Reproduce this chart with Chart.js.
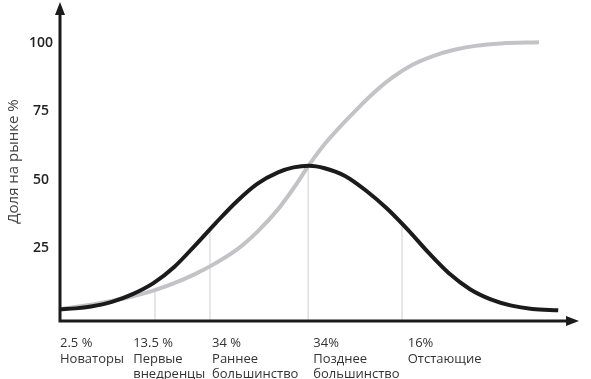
<!DOCTYPE html>
<html><head><meta charset="utf-8">
<script src="https://cdn.jsdelivr.net/npm/chart.js@4"></script>
<style>html,body{margin:0;padding:0;background:#fff}canvas{display:block}</style>
</head><body>
<canvas id="c" width="591" height="379"></canvas>
<script>
// Adoption (bell) curve
const adoptionX = [0, 3, 6, 10, 14, 18, 22, 26, 30, 34, 38, 42, 45, 48, 51, 55, 59, 63, 67, 71, 75, 79, 83, 87, 91, 96];
const adoptionY = [2.8, 3.1, 3.8, 5.5, 8.3, 12.3, 18.2, 26.0, 34.2, 42.0, 48.5, 52.7, 54.5, 55.1, 54.2, 51.3, 46.0, 39.5, 31.8, 23.4, 15.8, 10.1, 6.4, 4.1, 2.9, 2.4];
// Market share (S) curve
const shareX = [0, 6, 12, 18, 22, 26, 30, 34, 38, 42, 45, 48, 51, 54, 57, 60, 64, 68, 72, 76, 80, 85, 92.3];
const shareY = [2.8, 4.4, 6.6, 9.6, 12.3, 15.6, 19.6, 24.4, 31.0, 39.2, 46.9, 55.4, 63.0, 69.4, 75.3, 80.9, 87.2, 92.0, 95.2, 97.4, 98.8, 99.7, 100.1];
// Group boundaries (x) and the height of each drop line
const boundaryX = [18.3, 28.9, 47.8, 65.9];
const boundaryTop = [9.8, 32.2, 55.0, 34.5];
// Axis ticks
const yTickValues = [25, 50, 75, 100];
const xTickValues = [0, 14.1, 29.3, 48.8, 67.0];
const xTickLabels = [
  ["2.5 %", "Новаторы"],
  ["13.5 %", "Первые", "внедренцы"],
  ["34 %", "Раннее", "большинство"],
  ["34%", "Позднее", "большинство"],
  ["16%", "Отстающие"]
];
const yTitle = "Доля на рынке %";
const Y_MIN = -1.5, Y_MAX = 114.8, X_MIN = 0, X_MAX = 100;

const datasets = [
  {
    data: adoptionX.map((x, i) => ({x, y: adoptionY[i]})),
    borderColor: '#1b1b1b', borderWidth: 4, pointRadius: 0,
    cubicInterpolationMode: 'monotone', fill: false
  },
  {
    data: shareX.map((x, i) => ({x, y: shareY[i]})),
    borderColor: '#c3c3c7', borderWidth: 4, pointRadius: 0,
    cubicInterpolationMode: 'monotone', fill: false
  }
];
boundaryX.forEach((x, i) => {
  datasets.push({
    data: [{x, y: Y_MIN}, {x, y: boundaryTop[i]}],
    borderColor: '#cfcfd2', borderWidth: 1, pointRadius: 0, fill: false
  });
});

const axesArrows = {
  id: 'axesArrows',
  afterDatasetsDraw(chart) {
    const {ctx, chartArea: a} = chart;
    ctx.save();
    ctx.strokeStyle = '#1b1b1b';
    ctx.fillStyle = '#1b1b1b';
    ctx.lineWidth = 3;
    ctx.beginPath();
    ctx.moveTo(a.left, a.bottom + 1.5);
    ctx.lineTo(a.left, a.top + 10);
    ctx.moveTo(a.left - 1.5, a.bottom);
    ctx.lineTo(a.right - 10, a.bottom);
    ctx.stroke();
    ctx.beginPath();
    ctx.moveTo(a.left, a.top);
    ctx.lineTo(a.left - 5, a.top + 13);
    ctx.lineTo(a.left + 5, a.top + 13);
    ctx.closePath();
    ctx.fill();
    ctx.beginPath();
    ctx.moveTo(a.right, a.bottom);
    ctx.lineTo(a.right - 13, a.bottom - 5);
    ctx.lineTo(a.right - 13, a.bottom + 5);
    ctx.closePath();
    ctx.fill();
    ctx.restore();
  }
};

new Chart(document.getElementById('c'), {
  type: 'line',
  data: {datasets},
  options: {
    responsive: false,
    animation: false,
    layout: {padding: {top: 2, right: 12, left: 0, bottom: 0}},
    plugins: {legend: {display: false}, tooltip: {enabled: false}},
    scales: {
      x: {
        type: 'linear', min: X_MIN, max: X_MAX,
        grid: {display: false, drawTicks: false},
        border: {display: false},
        afterBuildTicks: s => { s.ticks = xTickValues.map(v => ({value: v})); },
        afterFit: s => { s.height = 58; s.paddingLeft = 0; s.paddingRight = 0; },
        ticks: {
          autoSkip: false, maxRotation: 0, minRotation: 0, align: 'start', padding: 15,
          color: '#333', font: {family: 'Open Sans', size: 13, lineHeight: 1.18},
          callback: (v, i) => xTickLabels[i]
        }
      },
      y: {
        type: 'linear', min: Y_MIN, max: Y_MAX,
        grid: {display: false, drawTicks: false},
        border: {display: false},
        afterBuildTicks: s => { s.ticks = yTickValues.map(v => ({value: v})); },
        afterFit: s => { s.width = 60; s.paddingTop = 0; s.paddingBottom = 0; },
        ticks: {
          padding: 7, crossAlign: 'center', color: '#222',
          font: {family: 'Open Sans', size: 14, weight: '600'}
        },
        title: {
          display: true, text: yTitle, color: '#444',
          font: {family: 'Open Sans', size: 15},
          padding: {top: 5, bottom: 0}
        }
      }
    }
  },
  plugins: [axesArrows]
});
</script>
</body></html>
